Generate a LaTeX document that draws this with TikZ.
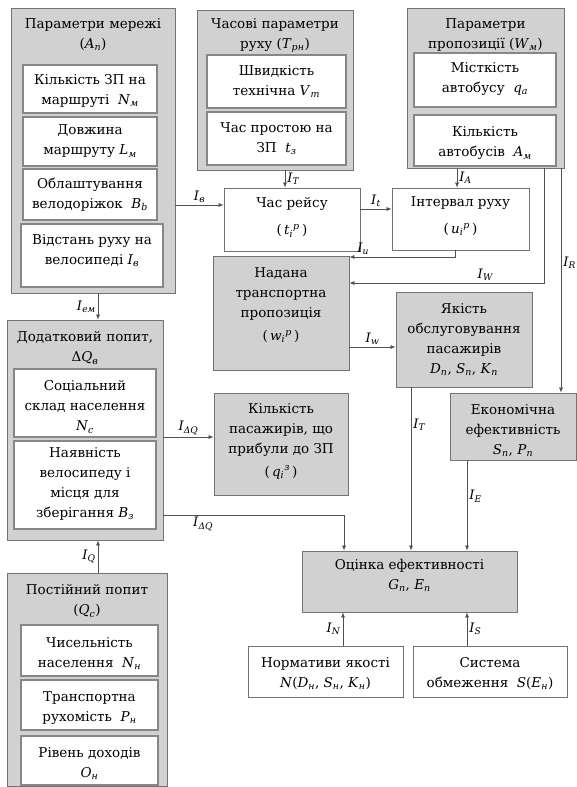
\documentclass[tikz,border=0pt]{standalone}
\usepackage{fontspec}
\setmainfont{DejaVu Serif}
\usetikzlibrary{arrows.meta,fit}
\definecolor{gfill}{RGB}{209,209,209}
\definecolor{gline}{RGB}{115,115,115}
\definecolor{wline}{RGB}{135,135,135}
\definecolor{cline}{RGB}{80,80,80}
\newcommand\vr[2]{\textit{#1}\textsubscript{\textit{#2}}}
\newcommand\vrs[3]{\textit{#1}\textsubscript{\textit{#2}}\textsuperscript{\textit{#3}}}
\begin{document}
\begin{tikzpicture}[x=1pt,y=-1pt,
  every node/.style={font=\fontsize{13.5}{20}\selectfont},
  outer/.style={draw=gline, fill=gfill, line width=0.8pt, inner sep=0pt},
  inner/.style={draw=wline, fill=white, line width=1.2pt, inner sep=0pt},
  gbox/.style={draw=gline, fill=gfill, line width=0.8pt, inner sep=0pt},
  wbox/.style={draw=gline, fill=white, line width=0.8pt, inner sep=0pt},
  txt/.style={align=center, inner sep=0pt},
  ttl/.style={anchor=north, align=center, inner sep=0pt},
  conn/.style={draw=cline, line width=0.6pt, -{Latex[length=5pt,width=4pt]}},
  lab/.style={font=\fontsize{13}{13}\selectfont, inner sep=2pt}]
\useasboundingbox (0,0) rectangle (577,787);
\fill[white] (0,0) rectangle (577,787);

% ---- Network parameters
\node[outer, fit={(11,8)(175,293)},
  label={[ttl, yshift=-11pt]north:{Параметри мережі\\(\vr{A}{п})}}] (A) {};
\node[inner, fit={(23,65)(157,113)},
  label={[txt, yshift=-2pt]center:{Кількість ЗП на\\маршруті \ \vr{N}{м}}}] (A1) {};
\node[inner, fit={(23,117)(157,166)},
  label={[txt]center:{Довжина\\маршруту \vr{L}{м}}}] (A2) {};
\node[inner, fit={(23,169)(157,220)},
  label={[txt]center:{Облаштування\\велодоріжок \ \vr{B}{b}}}] (A3) {};
\node[inner, fit={(21,224)(163,287)},
  label={[txt, yshift=5pt]center:{Відстань руху на\\велосипеді \vr{I}{в}}}] (A4) {};

% ---- Time parameters
\node[outer, fit={(197,10)(353,170)},
  label={[ttl, yshift=-9pt]north:{Часові параметри\\руху (\vr{T}{рн})}}] (T) {};
\node[inner, fit={(207,55)(346,108)},
  label={[txt]center:{Швидкість\\технічна \vr{V}{т}}}] (T1) {};
\node[inner, fit={(207,112)(346,165)},
  label={[txt]center:{Час простою на\\ЗП \ \vr{t}{з}}}] (T2) {};

% ---- Supply parameters
\node[outer, fit={(407,8)(564,168)},
  label={[ttl, yshift=-11pt]north:{Параметри\\пропозиції (\vr{W}{м})}}] (W) {};
\node[inner, fit={(414,53)(556,107)},
  label={[txt, yshift=1pt]center:{Місткість\\автобусу \ \vr{q}{a}}}] (W1) {};
\node[inner, fit={(414,115)(556,166)},
  label={[txt, yshift=-3pt]center:{Кількість\\автобусів \ \vr{A}{м}}}] (W2) {};

% ---- Middle boxes
\node[wbox, fit={(224,188)(360,251)},
  label={[txt, yshift=2pt]center:{Час рейсу\\[7pt](\,\vrs{t}{i}{p}\,)}}] (R) {};
\node[wbox, fit={(392,188)(529,250)},
  label={[txt, yshift=3pt]center:{Інтервал руху\\[7pt](\,\vrs{u}{i}{p}\,)}}] (I) {};
\node[gbox, fit={(213,256)(349,370)},
  label={[txt, yshift=8pt]center:{Надана\\транспортна\\пропозиція\\[3pt](\,\vrs{w}{i}{p}\,)}}] (P) {};
\node[gbox, fit={(396,292)(532,387)},
  label={[txt]center:{Якість\\обслуговування\\пасажирів\\\vr{D}{п}, \vr{S}{п}, \vr{K}{п}}}] (Q) {};
\node[gbox, fit={(450,393)(576,460)},
  label={[txt, yshift=-4pt]center:{Економічна\\ефективність\\\vr{S}{п}, \vr{P}{п}}}] (E) {};
\node[gbox, fit={(214,393)(348,495)},
  label={[txt, yshift=3pt]center:{Кількість\\пасажирів, що\\прибули до ЗП\\[3pt](\,\vrs{q}{i}{з}\,)}}] (K) {};
\node[gbox, fit={(302,551)(517,612)},
  label={[txt, yshift=6pt]center:{Оцінка ефективності\\\vr{G}{п}, \vr{E}{п}}}] (O) {};
\node[wbox, fit={(248,646)(403,697)},
  label={[txt, yshift=-2pt]center:{Нормативи якості\\\textit{N}(\vr{D}{н}, \vr{S}{н}, \vr{K}{н})}}] (N) {};
\node[wbox, fit={(413,646)(567,697)},
  label={[txt, yshift=-2pt]center:{Система\\обмеження \ \textit{S}(\vr{E}{н})}}] (S) {};

% ---- Additional demand
\node[outer, fit={(7,320)(163,540)},
  label={[ttl, yshift=-12pt]north:{Додатковий попит,\\Δ\vr{Q}{в}}}] (D) {};
\node[inner, fit={(14,369)(156,437)},
  label={[txt, yshift=-4pt]center:{Соціальний\\склад населення\\\vr{N}{c}}}] (D1) {};
\node[inner, fit={(14,441)(156,529)},
  label={[txt, yshift=1pt]center:{Наявність\\велосипеду і\\місця для\\зберігання \vr{B}{з}}}] (D2) {};

% ---- Constant demand
\node[outer, fit={(7,573)(167,786)},
  label={[ttl, yshift=-12pt]north:{Постійний попит\\(\vr{Q}{c})}}] (C) {};
\node[inner, fit={(21,625)(158,676)},
  label={[txt, yshift=-3pt]center:{Чисельність\\населення \ \vr{N}{н}}}] (C1) {};
\node[inner, fit={(21,680)(158,730)},
  label={[txt, yshift=-3pt]center:{Транспортна\\рухомість \ \vr{P}{н}}}] (C2) {};
\node[inner, fit={(21,736)(158,785)},
  label={[txt, yshift=-3pt]center:{Рівень доходів\\\vr{O}{н}}}] (C3) {};

% ---- helper coordinates
\coordinate (yIv) at (0,205);
\coordinate (xIT) at (285,0);
\coordinate (yIt) at (0,209);
\coordinate (xIA) at (457,0);
\coordinate (cu1) at (455,257);
\coordinate (cW1) at (544,283);
\coordinate (xIR) at (561,0);
\coordinate (yIw) at (0,347);
\coordinate (xIT2) at (411,0);
\coordinate (xIE) at (467,0);
\coordinate (yDQ) at (0,437);
\coordinate (cDQ) at (344,515);
\coordinate (xL) at (98,0);
\coordinate (xIN) at (343,0);

% ---- connectors
\draw[conn] (A.east |- yIv) -- node[lab,above]{\vr{I}{в}} (R.west |- yIv);
\draw[conn] (T.south -| xIT) -- node[lab,right]{\vr{I}{T}} (R.north -| xIT);
\draw[conn] (R.east |- yIt) -- node[lab,above]{\vr{I}{t}} (I.west |- yIt);
\draw[conn] (W.south -| xIA) -- node[lab,right]{\vr{I}{A}} (I.north -| xIA);
\draw[conn] (I.south -| cu1) -- (cu1) -- node[lab,above,pos=0.87]{\vr{I}{u}} (P.east |- cu1);
\draw[conn] (W.south -| cW1) -- (cW1) -- node[lab,above,pos=0.3]{\vr{I}{W}} (P.east |- cW1);
\draw[conn] (W.south -| xIR) -- node[lab,right,pos=0.42]{\vr{I}{R}} (E.north -| xIR);
\draw[conn] (P.east |- yIw) -- node[lab,above]{\vr{I}{w}} (Q.west |- yIw);
\draw[conn] (Q.south -| xIT2) -- node[lab,right,pos=0.23]{\vr{I}{T}} (O.north -| xIT2);
\draw[conn] (E.south -| xIE) -- node[lab,right,pos=0.4]{\vr{I}{E}} (O.north -| xIE);
\draw[conn] (D.east |- yDQ) -- node[lab,above]{\vr{I}{ΔQ}} (K.west |- yDQ);
\draw[conn] (D.east |- cDQ) -- node[lab,below,pos=0.22]{\vr{I}{ΔQ}} (cDQ) -- (O.north -| cDQ);
\draw[conn] (A.south -| xL) -- node[lab,left]{\vr{I}{ем}} (D.north -| xL);
\draw[conn] (C.north -| xL) -- node[lab,left]{\vr{I}{Q}} (D.south -| xL);
\draw[conn] (N.north -| xIN) -- node[lab,left]{\vr{I}{N}} (O.south -| xIN);
\draw[conn] (S.north -| xIE) -- node[lab,right]{\vr{I}{S}} (O.south -| xIE);
\end{tikzpicture}
\end{document}
